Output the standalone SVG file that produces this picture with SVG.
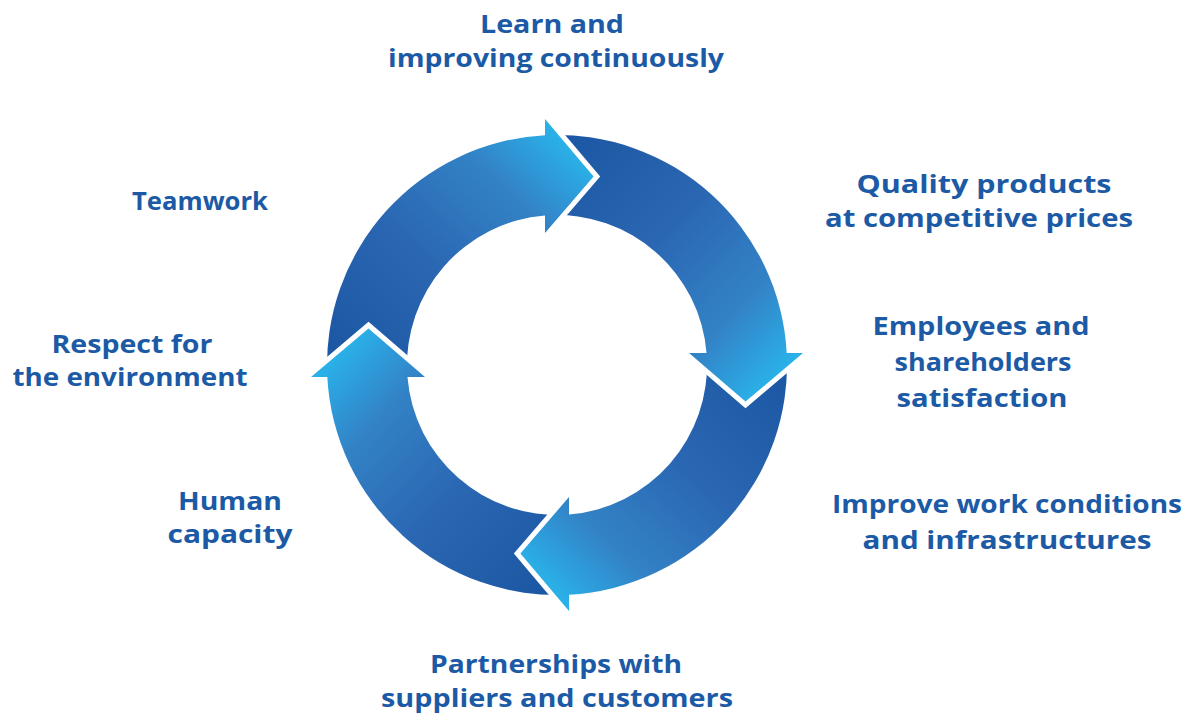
<svg xmlns="http://www.w3.org/2000/svg" xmlns:xlink="http://www.w3.org/1999/xlink" width="1191" height="713" viewBox="0 0 1191 713">
<style>
.lbl{font-family:"Open Sans","Liberation Sans",sans-serif;font-weight:700;font-size:25px;fill:#1c5aa6;text-anchor:middle}
</style>
<defs>
<linearGradient id="grad" gradientUnits="userSpaceOnUse" x1="-200" y1="40" x2="30" y2="-200">
<stop offset="0" stop-color="#1a55a2"/>
<stop offset="0.45" stop-color="#2a66b2"/>
<stop offset="0.78" stop-color="#3382c6"/>
<stop offset="0.9" stop-color="#2e9bd9"/>
<stop offset="1" stop-color="#2ab0e7"/>
</linearGradient>
<path id="head" d="M-12,-246 L36.6,-188.5 L-12,-132 Z"/>
<mask id="tailcut" maskUnits="userSpaceOnUse" x="-300" y="-300" width="600" height="600">
<rect x="-300" y="-300" width="600" height="600" fill="#fff"/>
<use xlink:href="#head" href="#head" transform="rotate(-90)" fill="#000" stroke="#000" stroke-width="10" stroke-linejoin="miter"/>
</mask>
<path id="arrow" d="M-229.69,12.04 A230,230 0 0 1 -12,-229.69 L-12,-246 L36.6,-188.5 L-12,-132 L-12,-149.52 A150,150 0 0 0 -149.79,7.85 Z" fill="url(#grad)" mask="url(#tailcut)"/>
</defs>
<rect width="1191" height="713" fill="#fff"/>
<g id="cycle" transform="translate(557,365)">
<g id="arrow-1"><use xlink:href="#arrow" href="#arrow"/></g>
<g id="arrow-2"><use xlink:href="#arrow" href="#arrow" transform="rotate(90)"/></g>
<g id="arrow-3"><use xlink:href="#arrow" href="#arrow" transform="rotate(180)"/></g>
<g id="arrow-4"><use xlink:href="#arrow" href="#arrow" transform="rotate(270)"/></g>
</g>
<g id="label-learn">
<text class="lbl" x="552" y="33" textLength="144" lengthAdjust="spacingAndGlyphs">Learn and</text>
<text class="lbl" x="556" y="67" textLength="336" lengthAdjust="spacingAndGlyphs">improving continuously</text>
</g>
<g id="label-quality">
<text class="lbl" x="984" y="193" textLength="255" lengthAdjust="spacingAndGlyphs">Quality products</text>
<text class="lbl" x="979" y="227" textLength="308" lengthAdjust="spacingAndGlyphs">at competitive prices</text>
</g>
<g id="label-employees">
<text class="lbl" x="981" y="335" textLength="217" lengthAdjust="spacingAndGlyphs">Employees and</text>
<text class="lbl" x="983" y="371" textLength="177" lengthAdjust="spacingAndGlyphs">shareholders</text>
<text class="lbl" x="982" y="407" textLength="171" lengthAdjust="spacingAndGlyphs">satisfaction</text>
</g>
<g id="label-improve">
<text class="lbl" x="1007" y="513" textLength="350" lengthAdjust="spacingAndGlyphs">Improve work conditions</text>
<text class="lbl" x="1007" y="549" textLength="289" lengthAdjust="spacingAndGlyphs">and infrastructures</text>
</g>
<g id="label-partnerships">
<text class="lbl" x="556" y="673" textLength="252" lengthAdjust="spacingAndGlyphs">Partnerships with</text>
<text class="lbl" x="557" y="707" textLength="352" lengthAdjust="spacingAndGlyphs">suppliers and customers</text>
</g>
<g id="label-human">
<text class="lbl" x="230" y="510" textLength="104" lengthAdjust="spacingAndGlyphs">Human</text>
<text class="lbl" x="230" y="543" textLength="125" lengthAdjust="spacingAndGlyphs">capacity</text>
</g>
<g id="label-respect">
<text class="lbl" x="132" y="353" textLength="161" lengthAdjust="spacingAndGlyphs">Respect for</text>
<text class="lbl" x="130" y="386" textLength="235" lengthAdjust="spacingAndGlyphs">the environment</text>
</g>
<g id="label-teamwork">
<text class="lbl" x="200" y="210" textLength="136" lengthAdjust="spacingAndGlyphs">Teamwork</text>
</g>
</svg>
